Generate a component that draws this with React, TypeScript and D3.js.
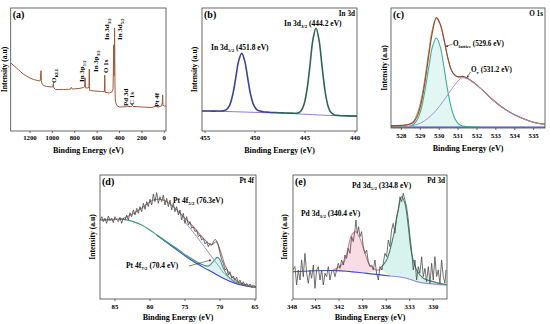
import * as d3 from 'd3';

type Pt = [number, number];

const FONT = "'Liberation Serif', 'Times New Roman', serif";

// ---------- (a) survey ----------
const surveyTicks = [1200, 1000, 800, 600, 400, 200, 0];
const survey: Pt[] = [
  [1372, 55.3], [1340, 52.8], [1300, 49.6], [1260, 46.3], [1230, 44.7], [1200, 43.1],
  [1170, 41.9], [1150, 41.5], [1120, 40.7], [1108, 40.9], [1104, 47], [1101, 49],
  [1098, 41], [1095, 39], [1080, 37], [1050, 36.2], [1010, 35.8], [995, 36],
  [991, 38.8], [987, 35], [970, 33.7], [900, 33.7], [840, 34], [830, 35.5],
  [822, 34.1], [760, 34.6], [720, 35.4], [712, 36], [708, 43.3], [704, 35],
  [680, 35], [673, 36], [670, 50.4], [667, 33], [660, 32.9], [620, 32.5],
  [560, 32.1], [535, 32], [532, 45.5], [529, 31.5], [490, 30.9], [470, 31.7],
  [458, 34], [455, 50], [452, 70], [449, 45], [446, 60], [444, 83.7], [441, 40],
  [438, 25.2], [430, 22], [420, 20.3], [400, 19.5], [340, 19.8], [335, 20.5],
  [330, 19.8], [290, 20], [285, 20.8], [280, 20], [200, 19.5], [120, 19.1],
  [80, 20], [75, 21], [70, 19.7], [50, 19.5], [25, 20.3], [18, 23], [15, 29.3],
  [12, 21], [5, 20.3], [-15, 20.3],
];

// ---------- (b) In 3d ----------
const in3dTicks = [455, 450, 445, 440];
const in3dLeft: Pt[] = [
  [455.3, 16.2], [454.5, 16.2], [453.8, 16.2], [453.33, 16.3], [453.13, 16.5], [452.83, 17.6],
  [452.53, 21.1], [452.23, 29.4], [451.93, 43], [451.63, 57], [451.33, 63.2], [451.03, 57],
  [450.73, 43], [450.43, 29.4], [450.13, 21], [449.83, 17.4], [449.53, 16.2], [449.2, 15.7],
  [448.6, 15.3], [448.0, 15],
];
const in3dRight: Pt[] = [
  [448.0, 15], [447.2, 14.7], [446.3, 14.5], [445.7, 14.7], [445.4, 16.2], [445.1, 21.5],
  [444.8, 33.6], [444.5, 53.6], [444.2, 74.5], [443.9, 83.5], [443.6, 74.1], [443.3, 53],
  [443.0, 32.8], [442.7, 20.4], [442.4, 15], [442.1, 13.3], [441.6, 12.6], [440.8, 12.3],
  [439.8, 12.1],
];
const in3dBg: Pt[] = [
  [455.3, 16.3], [453, 15.9], [451, 15.4], [449, 14.9], [447, 14.4], [445, 13.6],
  [444, 13.2], [443, 12.8], [441, 12.3], [439.8, 12.1],
];

// ---------- (c) O 1s ----------
const o1sTicks = [528, 529, 530, 531, 532, 533, 534, 535];
const o1sData: Pt[] = [
  [527.45, 2], [528.0, 2.2], [528.45, 3.2], [528.65, 5], [528.85, 10.3], [529.05, 21],
  [529.25, 38.5], [529.45, 60.5], [529.65, 80.5], [529.85, 92], [530.05, 87], [530.25, 74.5],
  [530.45, 59], [530.65, 48.2], [530.85, 43.8], [531.05, 42.6], [531.2, 43], [531.5, 41.5],
  [531.9, 37], [532.3, 31.5], [532.7, 25.5], [533.1, 20], [533.5, 15.5], [534.0, 11],
  [534.5, 7.5], [535.0, 4.8], [535.6, 3],
];
const o1sFit: Pt[] = [
  [527.45, 1.6], [528.0, 2], [528.45, 3.5], [528.65, 6], [528.85, 12.5], [529.05, 24],
  [529.25, 42], [529.45, 64], [529.65, 83], [529.85, 91], [530.05, 86], [530.25, 73.5],
  [530.45, 58.5], [530.65, 48], [530.85, 43.6], [531.05, 42.4], [531.2, 42.6], [531.5, 41.2],
  [531.9, 36.8], [532.3, 31.3], [532.7, 25.3], [533.1, 19.8], [533.5, 15.3], [534, 10.8],
  [534.5, 7.4], [535, 4.7], [535.6, 2.9],
];
const o1sLattice: Pt[] = [
  [527.45, 1], [528.2, 1.1], [528.45, 1.6], [528.65, 3.1], [528.85, 7.3], [529.05, 16.2],
  [529.25, 31.4], [529.45, 50.9], [529.65, 68], [529.85, 75], [530.05, 68], [530.25, 50.9],
  [530.45, 31.4], [530.65, 16.2], [530.85, 7.3], [531.05, 3.1], [531.25, 1.6], [531.6, 1],
  [532.1, 0.8],
];
const o1sVacancy: Pt[] = [
  [528.0, 0.8], [528.5, 1.5], [529.0, 4], [529.4, 8], [529.8, 14], [530.2, 22], [530.6, 31],
  [530.9, 37.5], [531.2, 41.8], [531.5, 41], [531.9, 36.8], [532.3, 31.3], [532.7, 25.3],
  [533.1, 19.8], [533.5, 15.3], [534.0, 10.8], [534.5, 7.3], [535.0, 4.6], [535.6, 2.8],
];
const o1sBase: Pt[] = [[527.45, 0.7], [531, 0.7], [535.6, 0.7]];

// ---------- (d) Pt 4f ----------
const pt4fTicks = [85, 80, 75, 70, 65];
const pt4fData: Pt[] = [
  [87.14, 63.7], [86.9, 66.4], [86.67, 62.4], [86.43, 65.1], [86.19, 61.0], [85.95, 66.9],
  [85.71, 63.2], [85.48, 65.1], [85.24, 61.6], [85.0, 66.4], [84.76, 63.7], [84.52, 62.4],
  [84.29, 65.9], [84.05, 61.0], [83.81, 65.1], [83.57, 63.7], [83.33, 67.7], [83.09, 63.7],
  [82.86, 69.6], [82.62, 66.4], [82.38, 71.8], [82.14, 67.7], [81.9, 73.1], [81.67, 69.1],
  [81.43, 74.5], [81.19, 70.4], [80.95, 77.2], [80.71, 72.3], [80.47, 78.5], [80.24, 74.5],
  [80.0, 80.4], [79.76, 75.8], [79.52, 84.7], [79.29, 78.5], [79.05, 85.8], [78.81, 77.2],
  [78.57, 82.5], [78.33, 78.5], [78.1, 83.9], [77.86, 75.8], [77.62, 81.2], [77.38, 74.5],
  [77.14, 79.8], [76.9, 71.8], [76.67, 77.2], [76.43, 70.4], [76.19, 74.5], [75.95, 67.7],
  [75.71, 71.8], [75.48, 63.7], [75.24, 69.1], [75.0, 61.0], [74.76, 66.4], [74.52, 59.7],
  [74.29, 62.4], [74.05, 57.0], [73.81, 58.3], [73.57, 54.3], [73.33, 55.6], [73.09, 50.3],
  [72.86, 51.6], [72.62, 47.6], [72.38, 48.9], [72.14, 44.4], [71.9, 46.2], [71.67, 42.2],
  [71.43, 44.9], [71.19, 43.6], [70.95, 46.2], [70.71, 48.1], [70.48, 47.0], [70.24, 43.6],
  [70.0, 36.8], [69.76, 31.5], [69.52, 28.8], [69.29, 23.4], [69.05, 24.7], [68.81, 19.4],
  [68.57, 22.0], [68.33, 16.7], [68.1, 18.5], [67.86, 15.3], [67.62, 17.5], [67.38, 13.2],
  [67.14, 15.3], [66.9, 11.3], [66.67, 14.0], [66.43, 10.5], [66.19, 12.6], [65.95, 9.9],
  [65.71, 12.1], [65.48, 9.4], [65.24, 11.3], [64.9, 9.9],
];
const pt4fFit: Pt[] = [
  [87.14, 63.7], [83.81, 65.1], [81.43, 72.3], [79.52, 79.8], [78.1, 79.8], [76.67, 74.5],
  [75.24, 66.4], [73.81, 58.3], [72.38, 48.9], [71.19, 43.6], [70.57, 46.2], [70.0, 39.5],
  [69.29, 27.4], [68.33, 18.0], [67.14, 13.2], [64.9, 9.9],
];
const pt4fBg: Pt[] = [
  [87.14, 63.7], [85.71, 64.2], [83.81, 64.2], [82.38, 62.4], [81.19, 59.7], [80.0, 55.6],
  [78.81, 50.8], [77.62, 46.2], [76.43, 41.7], [75.24, 36.8], [74.29, 33.3], [73.33, 30.1],
  [72.38, 27.4], [71.67, 26.6], [71.19, 28.8], [70.71, 32.0], [70.38, 33.6], [70.0, 31.5],
  [69.52, 24.7], [68.81, 18.0], [68.1, 14.5], [67.14, 12.1], [66.19, 10.8], [64.9, 9.4],
];
const pt4fBase: Pt[] = [
  [79.05, 51.6], [76.67, 41.7], [74.29, 32.0], [72.38, 25.5], [70.95, 21.2], [69.52, 16.7],
  [68.1, 13.2], [66.67, 11.0], [64.9, 9.4],
];
const pt4f52: Pt[] = [
  [75.24, 63.7], [73.33, 50.3], [71.9, 39.5], [70.48, 28.8], [69.05, 18.5], [67.62, 14.0],
  [66.19, 11.3],
];

// ---------- (e) Pd 3d ----------
const pd3dTicks = [348, 345, 342, 339, 336, 333, 330];
const pd3dData: Pt[] = [
  [347.92, 23.4], [347.62, 26.1], [347.41, 11.3], [347.2, 23.4], [346.98, 15.3], [346.77, 31.5],
  [346.56, 18.0], [346.35, 36.8], [346.13, 20.7], [345.92, 12.6], [345.71, 23.4], [345.5, 16.7],
  [345.28, 27.4], [345.07, 8.6], [344.86, 23.4], [344.65, 26.1], [344.43, 15.3], [344.22, 23.4],
  [344.01, 11.3], [343.8, 20.7], [343.59, 18.0], [343.37, 26.1], [343.16, 15.3], [342.95, 22.0],
  [342.74, 23.4], [342.52, 18.0], [342.31, 23.4], [342.1, 28.8], [341.89, 24.7], [341.67, 31.5],
  [341.46, 27.4], [341.25, 35.5], [341.04, 32.8], [340.83, 40.9], [340.61, 36.8], [340.4, 50.3],
  [340.19, 46.2], [339.98, 55.6], [339.85, 63.7], [339.68, 53.0], [339.51, 58.3], [339.34, 50.3],
  [339.13, 54.3], [338.92, 42.2], [338.7, 36.8], [338.49, 39.5], [338.28, 30.1], [338.07, 26.1],
  [337.85, 27.4], [337.64, 23.4], [337.43, 31.5], [337.22, 20.7], [337.0, 15.3], [336.79, 26.1],
  [336.58, 23.4], [336.37, 28.8], [336.16, 36.8], [335.94, 34.1], [335.73, 47.6], [335.52, 42.2],
  [335.31, 55.6], [335.1, 61.0], [334.88, 53.0], [334.67, 66.4], [334.46, 71.8], [334.24, 82.5],
  [334.03, 78.5], [333.82, 85.2], [333.61, 79.8], [333.4, 74.5], [333.18, 63.7], [332.97, 50.3],
  [332.76, 39.5], [332.55, 23.4], [332.33, 31.5], [332.12, 15.3], [331.91, 26.1], [331.7, 20.7],
  [331.48, 34.1], [331.27, 18.0], [331.06, 24.7], [330.85, 14.0], [330.63, 26.1], [330.42, 12.6],
  [330.21, 28.8], [330.0, 15.3], [329.79, 34.1], [329.57, 18.0], [329.36, 23.4], [329.15, 12.6],
  [328.94, 31.5], [328.72, 18.0], [328.51, 12.6], [328.38, 23.4],
];
const pd3dFit32: Pt[] = [
  [342.74, 23.4], [341.46, 28.8], [340.83, 42.2], [340.4, 51.6], [339.85, 54.3], [339.34, 48.9],
  [338.7, 36.8], [338.07, 27.4], [337.22, 23.4], [336.37, 24.2],
];
const pd3dFit52: Pt[] = [
  [336.79, 24.7], [335.94, 31.5], [335.1, 50.3], [334.46, 71.8], [334.03, 82.5], [333.61, 77.1],
  [333.18, 58.3], [332.76, 36.8], [332.12, 23.4], [331.27, 16.7], [330.0, 14.0], [328.3, 11.3],
];
const pd3dBaseL: Pt[] = [
  [347.92, 22], [342.31, 22.9], [338.49, 20.7], [335.52, 18.5],
];
const pd3dBaseR: Pt[] = [
  [335.52, 18.5], [333.4, 16.7], [332.12, 14.0], [330.85, 12.6], [328.3, 11.3],
];

interface Box { l: number; r: number; t: number; b: number }
interface Trace { data: Pt[]; color: string; width?: number; smooth?: boolean }
interface Band { top: Pt[]; bottom: Pt[]; from: number; to: number; color: string }

interface PanelProps {
  id: string;
  box: Box;
  domain: [number, number];
  ticks: number[];
  traces: Trace[];
  bands?: Band[];
  tickY: number;
  titleY: number;
  ylabX: number;
  tag: string;
  element: string;
}

function Panel({ id, box, domain, ticks, traces, bands = [], tickY, titleY, ylabX, tag, element }: PanelProps) {
  const x = d3.scaleLinear().domain(domain).range([box.l, box.r]);
  const y = d3.scaleLinear().domain([0, 100]).range([box.b, box.t]);
  const mk = (smooth?: boolean) =>
    d3.line<Pt>().x(d => x(d[0])).y(d => y(d[1])).curve(smooth ? d3.curveCatmullRom : d3.curveLinear);
  const inRange = (b: Band) => (d: Pt) => d[0] <= Math.max(b.from, b.to) && d[0] >= Math.min(b.from, b.to);
  const cx = (box.l + box.r) / 2;
  const cy = (box.t + box.b) / 2;
  return (
    <g>
      <defs>
        <clipPath id={`clip-${id}`}>
          <rect x={box.l} y={box.t} width={box.r - box.l} height={box.b - box.t} />
        </clipPath>
      </defs>
      <g clipPath={`url(#clip-${id})`}>
        {bands.map((b, i) => {
          const top = b.top.filter(inRange(b));
          const bot = b.bottom.filter(inRange(b)).slice().reverse();
          return <path key={i} d={mk(false)([...top, ...bot]) + 'Z'} fill={b.color} stroke="none" />;
        })}
        {traces.map((t, i) => (
          <path key={i} d={mk(t.smooth)(t.data) ?? ''} fill="none" stroke={t.color}
            strokeWidth={t.width ?? 1} strokeLinejoin="round" />
        ))}
      </g>
      <rect x={box.l} y={box.t} width={box.r - box.l} height={box.b - box.t}
        fill="none" stroke="#444" strokeWidth={0.8} />
      {ticks.map(t => (
        <g key={t}>
          <line x1={x(t)} x2={x(t)} y1={box.b} y2={box.b + 2} stroke="#444" strokeWidth={0.8} />
          <text x={x(t)} y={tickY} textAnchor="middle" fontSize={6.8} fontWeight="bold" fontFamily={FONT}>{t}</text>
        </g>
      ))}
      <text x={cx} y={titleY} textAnchor="middle" fontSize={8} fontWeight="bold" fontFamily={FONT}>
        Binding Energy (eV)
      </text>
      <text x={ylabX} y={cy} textAnchor="middle" fontSize={7.6} fontWeight="bold" fontFamily={FONT}
        transform={`rotate(-90 ${ylabX} ${cy})`}>Intensity (a.u)</text>
      <text x={box.l + 2} y={box.t + 10} fontSize={10} fontWeight="bold" fontFamily={FONT}>{tag}</text>
      <text x={box.r - 2} y={box.t + 8} textAnchor="end" fontSize={7.2} fontWeight="bold" fontFamily={FONT}>{element}</text>
    </g>
  );
}

function Lbl({ x, y, pre, sub, post = '', size = 7.5, rot = false }:
  { x: number; y: number; pre: string; sub?: string; post?: string; size?: number; rot?: boolean }) {
  return (
    <text x={x} y={y} fontSize={size} fontWeight="bold" fontFamily={FONT}
      transform={rot ? `rotate(-90 ${x} ${y})` : undefined}>
      {pre}
      {sub && <tspan dy={size * 0.28} fontSize={size * 0.66}>{sub}</tspan>}
      {sub ? <tspan dy={-size * 0.28}>{post}</tspan> : post}
    </text>
  );
}

const Arrow = ({ x1, y1, x2, y2 }: { x1: number; y1: number; x2: number; y2: number }) => (
  <line x1={x1} y1={y1} x2={x2} y2={y2} stroke="#333" strokeWidth={0.6} markerEnd="url(#ah)" />
);

export default function App() {
  return (
    <svg width={550} height={324} style={{ position: 'absolute', left: 0, top: 0, background: '#fff' }}>
      <defs>
        <marker id="ah" viewBox="0 0 6 6" refX={5} refY={3} markerWidth={4} markerHeight={4} orient="auto">
          <path d="M0,0 L6,3 L0,6 Z" fill="#333" />
        </marker>
      </defs>

      {/* (a) survey */}
      <Panel id="a" box={{ l: 10.7, r: 166, t: 8, b: 131 }} domain={[1372, -15]} ticks={surveyTicks}
        tickY={139.5} titleY={153} ylabX={6.5} tag="(a)" element=""
        traces={[{ data: survey, color: '#9a5b3e', width: 1 }]} />
      <Lbl x={56} y={83} pre="O" sub="KLL" size={7} rot />
      <Lbl x={84} y={82} pre="In 3p" sub="1/2" size={7} rot />
      <Lbl x={98} y={72} pre="In 3p" sub="3/2" size={7} rot />
      <Lbl x={108} y={73} pre="O 1s" size={7} rot />
      <Lbl x={109} y={40} pre="In 3d" sub="3/2" size={7} rot />
      <Lbl x={122} y={40} pre="In 3d" sub="5/2" size={7} rot />
      <Lbl x={128} y={106} pre="Pd 3d" size={7} rot />
      <Lbl x={134} y={105} pre="C 1s" size={7} rot />
      <Lbl x={159} y={107} pre="Pt 4f" size={7} rot />

      {/* (b) In 3d */}
      <Panel id="b" box={{ l: 202, r: 357, t: 8, b: 131 }} domain={[455.3, 439.8]} ticks={in3dTicks}
        tickY={139.5} titleY={153} ylabX={197} tag="(b)" element="In 3d"
        traces={[
          { data: in3dBg, color: '#7b6fd6', width: 0.9, smooth: true },
          { data: in3dLeft, color: '#3a4596', width: 1.6, smooth: true },
          { data: in3dRight, color: '#2f6652', width: 1.6, smooth: true },
        ]} />
      <Lbl x={211} y={50} pre="In 3d" sub="5/2" post=" (451.8 eV)" />
      <Lbl x={284} y={26} pre="In 3d" sub="3/2" post=" (444.2 eV)" />

      {/* (c) O 1s */}
      <Panel id="c" box={{ l: 391, r: 545, t: 8, b: 128 }} domain={[527.45, 535.6]} ticks={o1sTicks}
        tickY={138} titleY={151} ylabX={387} tag="(c)" element="O 1s"
        bands={[{ top: o1sLattice, bottom: o1sBase, from: 527.45, to: 532.1, color: '#e2f7f3' }]}
        traces={[
          { data: o1sBase, color: '#3d55d0', width: 1.2 },
          { data: o1sLattice, color: '#3fae92', width: 1.1, smooth: true },
          { data: o1sFit, color: '#c98a45', width: 1, smooth: true },
          { data: o1sData, color: '#8e4a3c', width: 1.1, smooth: true },
          { data: o1sVacancy, color: '#a78fd8', width: 1, smooth: true },
        ]} />
      <Lbl x={453} y={46} pre="O" sub="lattice" post=" (529.6 eV)" size={7.2} />
      <Arrow x1={452.5} y1={44} x2={446} y2={46.5} />
      <Lbl x={471} y={72} pre="O" sub="v" post=" (531.2 eV)" size={7.2} />
      <Arrow x1={470.5} y1={72} x2={467} y2={77.5} />

      {/* (d) Pt 4f */}
      <Panel id="d" box={{ l: 100, r: 256, t: 175, b: 299 }} domain={[87.14, 64.86]} ticks={pt4fTicks}
        tickY={309} titleY={320} ylabX={95} tag="(d)" element="Pt 4f"
        bands={[{ top: pt4fBg, bottom: pt4fBase, from: 79.05, to: 64.9, color: '#dcf4f0' }]}
        traces={[
          { data: pt4fBase, color: '#3f45c6', width: 1.1, smooth: true },
          { data: pt4fBg, color: '#3b9a7c', width: 1.1, smooth: true },
          { data: pt4f52, color: '#a195cf', width: 1, smooth: true },
          { data: pt4fFit, color: '#b77a7a', width: 1.1, smooth: true },
          { data: pt4fData, color: '#4a4a4a', width: 0.8 },
        ]} />
      <Lbl x={173} y={203} pre="Pt 4f" sub="5/2" post=" (76.3eV)" />
      <Lbl x={126} y={268} pre="Pt 4f" sub="7/2" post=" (70.4 eV)" />
      <Arrow x1={189} y1={266} x2={211} y2={260} />

      {/* (e) Pd 3d */}
      <Panel id="e" box={{ l: 293, r: 447, t: 175, b: 299 }} domain={[347.87, 328.25]} ticks={pd3dTicks}
        tickY={309} titleY={320} ylabX={287} tag="(e)" element="Pd 3d"
        bands={[
          { top: pd3dFit32, bottom: [...pd3dBaseL, ...pd3dBaseR], from: 342.74, to: 336.37, color: '#f8dde5' },
          { top: pd3dFit52, bottom: [...pd3dBaseL, ...pd3dBaseR], from: 336.79, to: 328.3, color: '#d8f3ee' },
        ]}
        traces={[
          { data: pd3dBaseL, color: '#3f4cc8', width: 1.1, smooth: true },
          { data: pd3dBaseR, color: '#9a8ad6', width: 1.1, smooth: true },
          { data: pd3dFit32, color: '#d97f9c', width: 1.1, smooth: true },
          { data: pd3dFit52, color: '#3d8a68', width: 1.1, smooth: true },
          { data: pd3dData, color: '#4d4d4d', width: 0.8 },
        ]} />
      <Lbl x={352} y={188} pre="Pd 3d" sub="5/2" post=" (334.8 eV)" />
      <Lbl x={301} y={216} pre="Pd 3d" sub="3/2" post=" (340.4 eV)" />
    </svg>
  );
}
